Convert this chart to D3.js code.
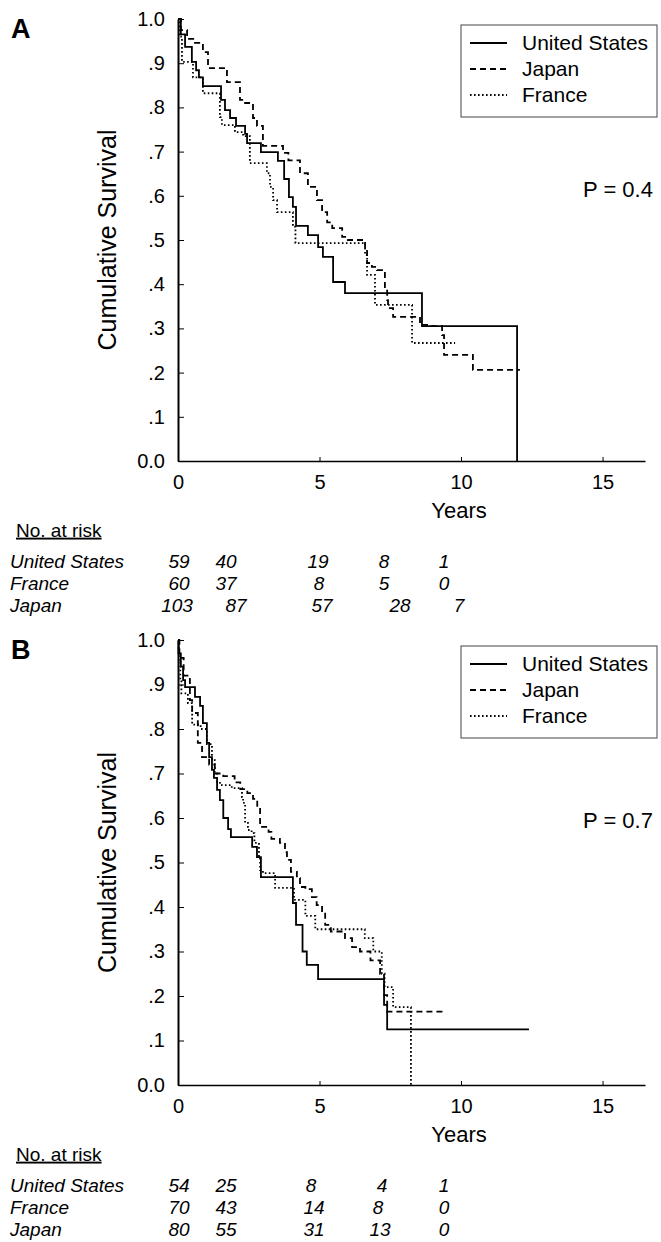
<!DOCTYPE html>
<html>
<head>
<meta charset="utf-8">
<script src="https://cdn.jsdelivr.net/npm/d3@7"></script>
<style>
  body { margin: 0; background: #fff; }
  svg { font-family: "Liberation Sans", Arial, sans-serif; }
</style>
</head>
<body>
<svg id="chart" width="661" height="1242"></svg>
<script>
// Kaplan-Meier curves: [time in years, survival after the drop]
const usA = [[0,1],[0.1,0.965],[0.25,0.937],[0.49,0.903],[0.64,0.884],[0.74,0.868],[0.88,0.848],[1.52,0.817],[1.66,0.794],[1.84,0.776],[2.05,0.758],[2.37,0.74],[2.44,0.719],[2.93,0.699],[3.53,0.679],[3.75,0.638],[3.92,0.597],[4.06,0.575],[4.17,0.532],[4.59,0.511],[4.95,0.484],[5.12,0.462],[5.48,0.405],[5.9,0.38],[8.62,0.305],[11.98,0]];
const japanA = [[0,1],[0.1,0.975],[0.32,0.955],[0.6,0.946],[0.88,0.925],[1.06,0.889],[1.73,0.857],[2.19,0.817],[2.37,0.81],[2.65,0.776],[2.79,0.758],[3.0,0.713],[3.71,0.697],[3.9,0.68],[4.31,0.651],[4.59,0.62],[4.91,0.59],[5.09,0.563],[5.27,0.54],[5.45,0.527],[5.8,0.507],[6.0,0.5],[6.61,0.482],[6.68,0.448],[6.85,0.439],[7.03,0.432],[7.31,0.391],[7.39,0.364],[7.42,0.346],[7.6,0.326],[8.55,0.308],[8.8,0.305],[9.33,0.285],[9.4,0.24],[10.42,0.206]];
const franceA = [[0,1],[0.05,0.96],[0.14,0.903],[0.53,0.868],[0.88,0.832],[1.48,0.778],[1.55,0.76],[2.01,0.744],[2.3,0.735],[2.54,0.674],[3.14,0.651],[3.25,0.62],[3.36,0.59],[3.5,0.563],[4.06,0.53],[4.15,0.493],[6.61,0.466],[6.68,0.421],[6.96,0.353],[8.27,0.267]];
const endA = { us: 11.98, japan: 12.08, france: 9.79 };

const usB = [[0,1],[0.02,0.97],[0.1,0.94],[0.18,0.91],[0.25,0.894],[0.6,0.872],[0.78,0.852],[0.88,0.813],[1.02,0.769],[1.1,0.737],[1.2,0.708],[1.27,0.69],[1.38,0.663],[1.48,0.64],[1.6,0.6],[1.77,0.575],[1.87,0.557],[2.62,0.535],[2.79,0.512],[2.93,0.467],[4.06,0.409],[4.17,0.36],[4.4,0.3],[4.55,0.27],[4.95,0.238],[7.28,0.18],[7.39,0.125]];
const japanB = [[0,1],[0.05,0.96],[0.2,0.92],[0.42,0.865],[0.5,0.836],[0.7,0.769],[0.85,0.737],[1.1,0.72],[1.3,0.7],[1.6,0.694],[2.0,0.68],[2.2,0.665],[2.45,0.656],[2.65,0.643],[2.8,0.625],[2.9,0.58],[3.2,0.569],[3.3,0.553],[3.6,0.544],[3.78,0.523],[3.85,0.506],[3.99,0.479],[4.2,0.465],[4.31,0.445],[4.5,0.44],[4.73,0.422],[4.9,0.404],[5.09,0.387],[5.2,0.36],[5.4,0.345],[5.9,0.33],[6.15,0.31],[6.43,0.3],[6.8,0.28],[7.14,0.25],[7.28,0.202],[7.39,0.165]];
const franceB = [[0,1],[0.03,0.95],[0.08,0.91],[0.12,0.88],[0.35,0.858],[0.5,0.81],[0.8,0.8],[1.02,0.766],[1.2,0.73],[1.3,0.7],[1.38,0.679],[1.55,0.674],[1.9,0.667],[2.26,0.647],[2.3,0.634],[2.37,0.589],[2.47,0.573],[2.6,0.566],[2.7,0.544],[2.86,0.512],[2.9,0.483],[3.0,0.476],[3.43,0.443],[4.1,0.416],[4.5,0.38],[4.85,0.35],[6.6,0.33],[6.9,0.3],[7.2,0.25],[7.3,0.22],[7.6,0.175],[8.23,0]];
const endB = { us: 12.4, japan: 9.43, france: 8.23 };

// legend / risk table text
const countries = ["United States", "Japan", "France"];
const riskRows = ["United States", "France", "Japan"];
const riskA = [[59,40,19,8,1],[60,37,8,5,0],[103,87,57,28,7]];
const riskB = [[54,25,8,4,1],[70,43,14,8,0],[80,55,31,13,0]];
const pValues = ["P = 0.4", "P = 0.7"];
const yTicks = [0,0.1,0.2,0.3,0.4,0.5,0.6,0.7,0.8,0.9,1.0];
const xTicks = [0,5,10,15];

// layout of the two panels
const panels = [
  { label: "A", top: 19, bottom: 461, curves: [usA, japanA, franceA], ends: endA, risk: riskA, p: pValues[0], pY: 0.615,
    riskX: [[179,226,318,384,444],[179,226,319,384,444],[177,236,322,400,459]] },
  { label: "B", top: 640, bottom: 1085, curves: [usB, japanB, franceB], ends: endB, risk: riskB, p: pValues[1], pY: 0.595,
    riskX: [[179,226,311,382,444],[179,226,314,378,444],[179,226,314,380,444]] }
];
const dashes = [null, "6,4", "1.6,2.4"];
const endKeys = ["us", "japan", "france"];

const svg = d3.select("#chart");

panels.forEach(p => {
  const g = svg.append("g");

  const x = d3.scaleLinear().domain([0, 16.5]).range([178, 645]);
  const y = d3.scaleLinear().domain([0, 1]).range([p.bottom, p.top]);

  // axes, ticks pointing inward
  const yAxis = d3.axisLeft(y).tickValues(yTicks).tickSizeInner(-6).tickSizeOuter(0).tickPadding(13)
    .tickFormat(d => d === 0 ? "0.0" : d === 1 ? "1.0" : d3.format(".1f")(d).replace(/^0/, ""));
  const xAxis = d3.axisBottom(x).tickValues(xTicks).tickSizeInner(-4).tickSizeOuter(0).tickPadding(14);

  g.append("g").attr("transform", `translate(178,0)`).call(yAxis)
    .call(a => a.select(".domain").attr("stroke-width", 2))
    .call(a => a.selectAll("text").attr("font-size", 20).attr("fill", "#000").attr("font-family", null));
  g.append("g").attr("transform", `translate(0,${p.bottom})`).call(xAxis)
    .call(a => a.select(".domain").attr("stroke-width", 1.5))
    .call(a => a.selectAll("text").attr("font-size", 20).attr("fill", "#000").attr("font-family", null));

  // survival curves
  const line = d3.line().x(d => x(d[0])).y(d => y(d[1])).curve(d3.curveStepAfter);
  p.curves.forEach((c, i) => {
    const pts = c.slice();
    const last = pts[pts.length - 1];
    const end = p.ends[endKeys[i]];
    if (last[0] < end) pts.push([end, last[1]]);
    g.append("path")
      .attr("d", line(pts))
      .attr("fill", "none")
      .attr("stroke", "#000")
      .attr("stroke-width", 1.8)
      .attr("stroke-dasharray", dashes[i]);
  });

  // panel letter
  g.append("text").attr("x", 11).attr("y", p.top + 19)
    .attr("font-size", 27).attr("font-weight", "bold").text(p.label);

  // y axis title
  g.append("text")
    .attr("transform", `translate(116,${(p.top + p.bottom) / 2}) rotate(-90)`)
    .attr("text-anchor", "middle").attr("font-size", 25).text("Cumulative Survival");

  // x axis title
  g.append("text").attr("x", 459).attr("y", p.bottom + 57)
    .attr("text-anchor", "middle").attr("font-size", 22).text("Years");

  // legend
  const lg = g.append("g").attr("transform", `translate(461,${p.top + 6})`);
  lg.append("rect").attr("width", 196).attr("height", 92)
    .attr("fill", "none").attr("stroke", "#444").attr("stroke-width", 1);
  countries.forEach((name, i) => {
    const yy = 18 + i * 26;
    lg.append("line").attr("x1", 9).attr("x2", 46).attr("y1", yy).attr("y2", yy)
      .attr("stroke", "#000").attr("stroke-width", 1.8).attr("stroke-dasharray", dashes[i]);
    lg.append("text").attr("x", 61).attr("y", yy).attr("dy", "0.35em")
      .attr("font-size", 21).text(name);
  });

  // p value
  g.append("text").attr("x", 583).attr("y", y(p.pY)).attr("dy", "0.35em")
    .attr("font-size", 22).text(p.p);

  // number at risk table
  const ty = p.bottom + 69;
  g.append("text").attr("x", 16).attr("y", ty).attr("dy", "0.35em")
    .attr("font-size", 19).attr("text-decoration", "underline").text("No. at risk");
  riskRows.forEach((name, r) => {
    const ry = ty + 31 + r * 22.4;
    g.append("text").attr("x", 10).attr("y", ry).attr("dy", "0.35em")
      .attr("font-size", 19).attr("font-style", "italic").text(name);
    g.selectAll(null).data(p.risk[r]).enter().append("text")
      .attr("x", (d, k) => p.riskX[r][k]).attr("y", ry).attr("dy", "0.35em")
      .attr("text-anchor", "middle").attr("font-size", 19).attr("font-style", "italic")
      .text(d => d);
  });
});
</script>
</body>
</html>
